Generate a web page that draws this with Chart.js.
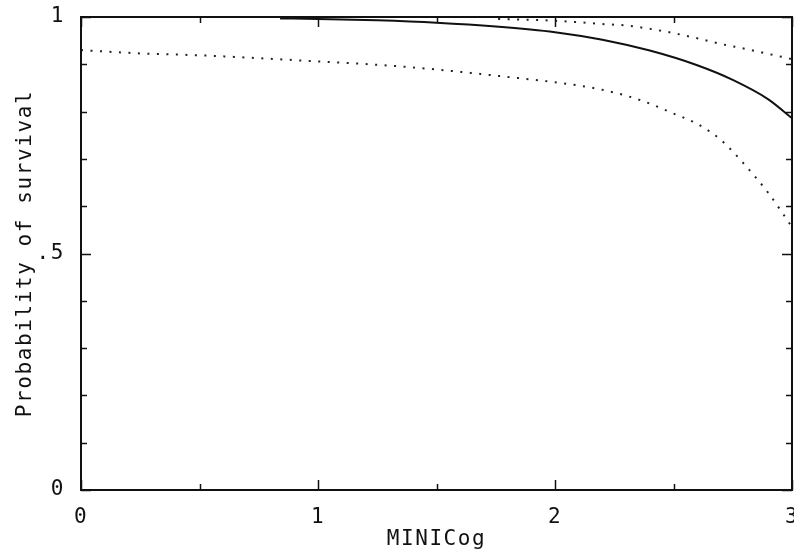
<!DOCTYPE html>
<html>
<head>
<meta charset="utf-8">
<script src="https://cdn.jsdelivr.net/npm/chart.js@4"></script>
<style>
  html, body { margin: 0; padding: 0; background: #fff; overflow: hidden; }
  #wrap { width: 830px; height: 549px; }
</style>
</head>
<body>
<div id="wrap"><canvas id="survivalChart" width="830" height="549"></canvas></div>
<script>
// fitted survival probability vs MINICog score
const fitX = [0.84, 1.0, 1.25, 1.5, 1.75, 2.0, 2.2, 2.4, 2.6, 2.75, 2.9, 3.0];
const fitY = [0.997, 0.996, 0.993, 0.988, 0.980, 0.968, 0.952, 0.929, 0.898, 0.867, 0.826, 0.786];

// upper confidence limit (only visible once it drops below 1)
const upperX = [1.76, 1.9, 2.0, 2.1, 2.2, 2.3, 2.4, 2.5, 2.6, 2.7, 2.8, 2.9, 3.0];
const upperY = [0.996, 0.994, 0.992, 0.989, 0.985, 0.982, 0.975, 0.966, 0.955, 0.943, 0.933, 0.922, 0.911];

// lower confidence limit
const lowerX = [0, 0.25, 0.5, 0.75, 1.0, 1.25, 1.5, 1.75, 2.0, 2.1, 2.2, 2.35, 2.5, 2.6, 2.7, 2.8, 2.9, 3.0];
const lowerY = [0.930, 0.923, 0.919, 0.913, 0.906, 0.899, 0.889, 0.876, 0.862, 0.855, 0.846, 0.826, 0.796, 0.774, 0.740, 0.688, 0.628, 0.556];

const xTickValues = [0, 1, 2, 3];
const xTickLabels = ['0', '1', '2', '3'];
const yTickValues = [0, 0.5, 1];
const yTickLabels = ['0', '.5', '1'];

const ink = '#111';
const axisFont = { family: "'DejaVu Sans Mono', monospace", size: 21, lineHeight: 1 };

const toPoints = (xs, ys) => xs.map((x, i) => ({ x: x, y: ys[i] }));

// box around the plot with inward ticks on all four sides
const frame = {
  id: 'frame',
  beforeDraw(chart) {
    chart.ctx.letterSpacing = '1.6px';
  },
  afterDatasetsDraw(chart) {
    const { ctx, chartArea: { left, right, top, bottom }, scales: { x, y } } = chart;
    ctx.save();
    ctx.strokeStyle = ink;
    ctx.lineWidth = 2;
    ctx.strokeRect(left, top, right - left, bottom - top);
    ctx.lineWidth = 1.5;
    ctx.beginPath();
    for (let i = 0; i <= 10; i++) {
      const py = Math.round(y.getPixelForValue(i / 10)) + 0.5;
      const len = i % 5 === 0 ? 10 : 6;
      ctx.moveTo(left, py); ctx.lineTo(left + len, py);
      ctx.moveTo(right, py); ctx.lineTo(right - len, py);
    }
    for (let i = 0; i <= 6; i++) {
      const px = Math.round(x.getPixelForValue(i / 2)) + 0.5;
      const len = i % 2 === 0 ? 10 : 6;
      ctx.moveTo(px, bottom); ctx.lineTo(px, bottom - len);
      ctx.moveTo(px, top); ctx.lineTo(px, top + len);
    }
    ctx.stroke();
    ctx.restore();
  }
};

new Chart(document.getElementById('survivalChart'), {
  type: 'line',
  data: {
    datasets: [
      {
        data: toPoints(fitX, fitY),
        borderColor: ink,
        borderWidth: 2,
        pointRadius: 0,
        cubicInterpolationMode: 'monotone'
      },
      {
        data: toPoints(upperX, upperY),
        borderColor: '#222',
        borderWidth: 2,
        borderDash: [2, 7.5],
        pointRadius: 0,
        cubicInterpolationMode: 'monotone'
      },
      {
        data: toPoints(lowerX, lowerY),
        borderColor: '#222',
        borderWidth: 2,
        borderDash: [2, 7.5],
        pointRadius: 0,
        cubicInterpolationMode: 'monotone'
      }
    ]
  },
  options: {
    responsive: false,
    animation: false,
    layout: { padding: { top: 17, right: 38, left: 0, bottom: 0 } },
    plugins: {
      legend: { display: false },
      tooltip: { enabled: false }
    },
    scales: {
      x: {
        type: 'linear',
        min: 0,
        max: 3,
        afterBuildTicks: s => { s.ticks = xTickValues.map(v => ({ value: v })); },
        afterFit: s => { s.height = 59; },
        ticks: {
          color: ink,
          font: axisFont,
          padding: 0,
          maxRotation: 0,
          callback: v => xTickLabels[xTickValues.indexOf(v)]
        },
        // tick marks are drawn by the frame plugin; tickLength only spaces the labels
        grid: { display: false, drawTicks: true, tickLength: 17 },
        border: { display: false },
        title: {
          display: true,
          text: 'MINICog',
          color: ink,
          font: axisFont,
          padding: { top: 0, bottom: -1 }
        }
      },
      y: {
        min: 0,
        max: 1,
        afterBuildTicks: s => { s.ticks = yTickValues.map(v => ({ value: v })); },
        afterFit: s => { s.width = 81; },
        ticks: {
          color: ink,
          font: axisFont,
          padding: 0,
          callback: v => yTickLabels[yTickValues.indexOf(v)]
        },
        grid: { display: false, drawTicks: true, tickLength: 16 },
        border: { display: false },
        title: {
          display: true,
          text: 'Probability of survival',
          color: ink,
          font: axisFont,
          padding: { top: 15, bottom: 0 }
        }
      }
    }
  },
  plugins: [frame]
});
</script>
</body>
</html>
